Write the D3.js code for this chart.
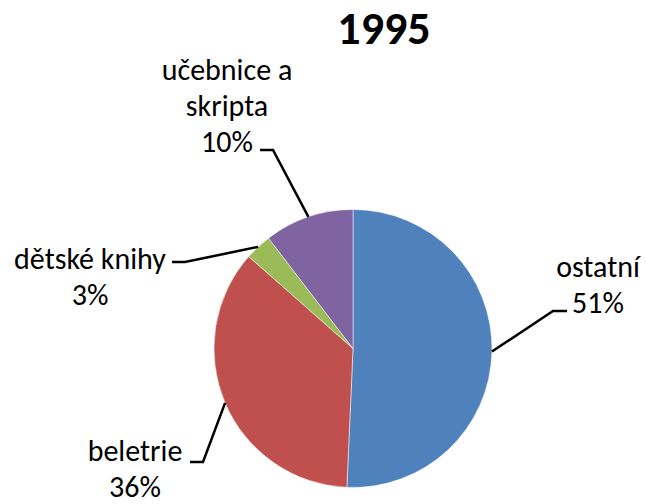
<!DOCTYPE html>
<html lang="cs"><head>
<meta charset="utf-8">
<title>1995</title>
<script src="https://cdn.jsdelivr.net/npm/d3@7"></script>
<style>
  body { margin: 0; background: #fff; }
  text { font-family: Carlito, Calibri, Lato, sans-serif; }
</style>
</head>
<body>
<script>
var width = 646;
var height = 504;

// data
var categories = ["ostatní", "beletrie", "dětské knihy", "učebnice a skripta"];
var values = [50.7, 35.8, 3.1, 10.4];
var colors = ["#4F81BD", "#C0504D", "#9BBB59", "#8064A2"];
// label text lines (without percent)
var labelLines = [["ostatní"], ["beletrie"], ["dětské knihy"], ["učebnice a", "skripta"]];

// where each leader line bends and ends, and where the label block sits
var leaderElbow = [[553, 311], [203, 462], [185, 262], [273, 150]];
var leaderEnd = [[567, 311], [190, 462], [172, 262], [260, 150]];
// x centre of label block, baseline of its last (percent) line
var labelAnchor = [[598, 313], [135, 497], [90, 305], [227, 152]];

var cx = 353, cy = 348.5, r = 139;

var svg = d3.select("body").append("svg")
    .attr("width", width)
    .attr("height", height);

svg.append("text")
    .attr("x", 384)
    .attr("y", 44)
    .attr("text-anchor", "middle")
    .attr("font-size", 46)
    .attr("font-weight", "bold")
    .text("1995");

var pie = d3.pie().sort(null).value(function(d) { return d; });
var arcs = pie(values);
var arc = d3.arc().innerRadius(0).outerRadius(r);

var g = svg.append("g").attr("transform", "translate(" + cx + "," + cy + ")");

g.selectAll("path")
    .data(arcs)
    .enter()
    .append("path")
    .attr("d", arc)
    .attr("fill", function(d, i) { return colors[i]; })
    .attr("stroke", "#fff")
    .attr("stroke-width", 0.5);

var total = d3.sum(values);

arcs.forEach(function(d, i) {
    var mid = (d.startAngle + d.endAngle) / 2;
    var p0 = [cx + r * Math.sin(mid), cy - r * Math.cos(mid)];
    svg.append("polyline")
        .attr("points", [p0, leaderElbow[i], leaderEnd[i]].map(function(p) { return p.join(","); }).join(" "))
        .attr("fill", "none")
        .attr("stroke", "#000")
        .attr("stroke-width", 2.5);

    var lines = labelLines[i].concat([Math.round(values[i] / total * 100) + "%"]);
    var lh = 36;
    var t = svg.append("text")
        .attr("text-anchor", "middle")
        .attr("font-size", 30)
        .attr("fill", "#000");
    lines.forEach(function(s, j) {
        t.append("tspan")
            .attr("x", labelAnchor[i][0])
            .attr("y", labelAnchor[i][1] - (lines.length - 1 - j) * lh)
            .text(s);
    });
});
</script>
</body></html>
